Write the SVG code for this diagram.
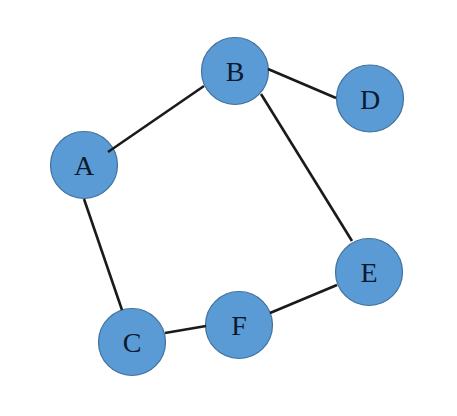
<svg xmlns="http://www.w3.org/2000/svg" width="457" height="416" viewBox="0 0 457 416">
<style>
.node circle{fill:#5B9BD5;stroke:#41719C;stroke-width:1.2}
.node text{font-family:"Liberation Serif","Times New Roman",serif;font-size:28px;fill:#0c1a2f;text-anchor:middle}
.edges line{stroke:#1a1a1a;stroke-width:2.6;stroke-linecap:butt}
</style>
<rect width="457" height="416" fill="#ffffff"/>
<g id="node-A" class="node"><circle cx="84" cy="165" r="33.5"/><text x="84" y="175">A</text></g>
<g id="node-B" class="node"><circle cx="235" cy="71" r="33.5"/><text x="235" y="81">B</text></g>
<g id="node-D" class="node"><circle cx="370" cy="98.5" r="33.5"/><text x="370" y="108.5">D</text></g>
<g id="node-E" class="node"><circle cx="369" cy="272" r="33.5"/><text x="369" y="282">E</text></g>
<g id="node-F" class="node"><circle cx="239" cy="325" r="33.5"/><text x="239" y="335">F</text></g>
<g id="node-C" class="node"><circle cx="132" cy="342" r="33.5"/><text x="132" y="352">C</text></g>
<g id="connectors" class="edges">
<line x1="108" y1="152" x2="204" y2="86"/>
<line x1="268" y1="69" x2="336" y2="98"/>
<line x1="261" y1="94" x2="352" y2="241"/>
<line x1="84" y1="199" x2="122" y2="310"/>
<line x1="165" y1="333" x2="206" y2="326"/>
<line x1="270" y1="313" x2="337" y2="285"/>
</g>
</svg>
